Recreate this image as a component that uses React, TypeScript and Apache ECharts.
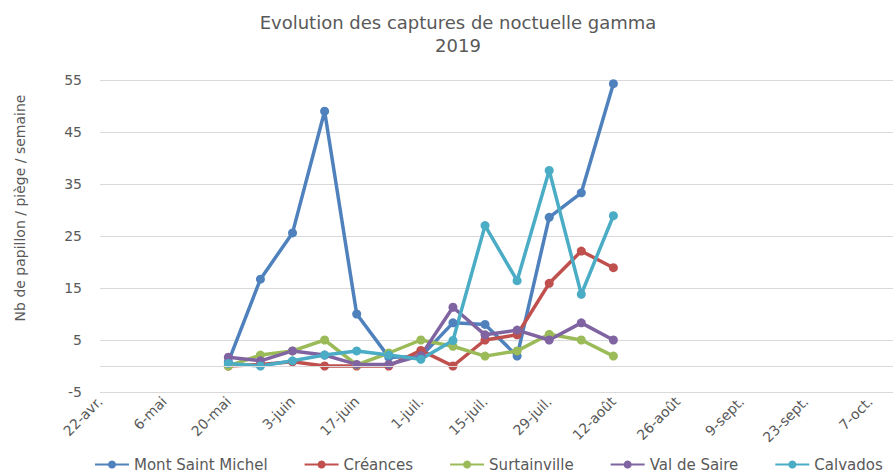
import React, { useEffect, useRef } from "react";
import * as echarts from "echarts";

const startDate = "2019-04-22";
const tickLabels = ["22-avr.", "6-mai", "20-mai", "3-juin", "17-juin", "1-juil.", "15-juil.", "29-juil.", "12-août", "26-août", "9-sept.", "23-sept.", "7-oct."];
const dates = ["2019-05-20", "2019-05-27", "2019-06-03", "2019-06-10", "2019-06-17", "2019-06-24", "2019-07-01", "2019-07-08", "2019-07-15", "2019-07-22", "2019-07-29", "2019-08-05", "2019-08-12"];
const seriesNames = ["Mont Saint Michel", "Créances", "Surtainville", "Val de Saire", "Calvados"];
const montSaintMichel = [0.8, 16.7, 25.6, 49.0, 10.0, 1.7, 1.8, 8.3, 8.0, 1.9, 28.6, 33.3, 54.3];
const creances = [0, 0.3, 0.8, 0, 0, 0, 3.0, 0, 5.0, 6.0, 15.9, 22.1, 18.9];
const surtainville = [0, 2.1, 2.9, 5.0, 0.2, 2.5, 5.0, 3.8, 1.9, 2.9, 6.1, 5.0, 1.9];
const valDeSaire = [1.7, 1.0, 2.9, 2.1, 0.3, 0.3, 2.0, 11.3, 6.0, 6.9, 5.0, 8.3, 5.0];
const calvados = [0.5, 0, 1.0, 2.1, 2.9, 2.1, 1.3, 4.9, 27.0, 16.4, 37.6, 13.8, 28.9];
const colors = ["#4F81BD", "#C0504D", "#9BBB59", "#8064A2", "#4BACC6"];

const DAY = 24 * 3600 * 1000;
const dayOffset = (d: string) => Math.round((Date.parse(d) - Date.parse(startDate)) / DAY);

export default function App() {
  const ref = useRef<HTMLDivElement>(null);
  useEffect(() => {
    document.body.style.margin = "0";
    const chart = echarts.init(ref.current!, null, { renderer: "svg" });
    const allValues = [montSaintMichel, creances, surtainville, valDeSaire, calvados];
    const axisFont = "DejaVu Sans, Verdana, sans-serif";
    const titleStyle = { fontFamily: axisFont, fontSize: 18, fontWeight: "normal", color: "#595959", lineHeight: 21 };
    chart.setOption({
      animation: false,
      color: colors,
      title: {
        text: "Evolution des captures de noctuelle gamma",
        subtext: "2019",
        left: 453,
        textAlign: "center",
        top: 7,
        itemGap: 2,
        textStyle: titleStyle,
        subtextStyle: titleStyle,
      },
      legend: {
        left: 94,
        top: 457,
        width: 799,
        padding: 0,
        itemWidth: 34,
        itemHeight: 10,
        itemGap: 36,
        textStyle: { fontFamily: axisFont, fontSize: 15, color: "#595959" },
        data: seriesNames,
      },
      grid: { left: 100, right: 0, top: 80, bottom: 82 },
      xAxis: {
        type: "value",
        min: 0,
        max: 173,
        interval: 14,
        axisLine: { show: false },
        axisTick: { show: false },
        splitLine: { show: false },
        axisLabel: {
          rotate: 45,
          margin: 7,
          showMaxLabel: false,
          fontFamily: axisFont,
          fontSize: 14,
          color: "#595959",
          formatter: (v: number) => (Math.round(v) % 14 === 0 ? tickLabels[Math.round(v / 14)] ?? "" : ""),
        },
      },
      yAxis: {
        type: "value",
        min: -5,
        max: 55,
        interval: 10,
        axisLine: { show: false },
        axisTick: { show: false },
        splitLine: { lineStyle: { color: "#D9D9D9", width: 1 } },
        axisLabel: { margin: 18, fontFamily: axisFont, fontSize: 14, color: "#595959" },
      },
      graphic: [
        {
          type: "text",
          x: 20,
          y: 208,
          rotation: Math.PI / 2,
          style: {
            text: "Nb de papillon / piège / semaine",
            fontFamily: axisFont,
            fontSize: 14,
            fill: "#595959",
            align: "center",
            verticalAlign: "middle",
          },
        },
      ],
      series: seriesNames.map((name, i) => ({
        name,
        type: "line",
        symbol: "circle",
        symbolSize: 9,
        lineStyle: { width: 3.5 },
        data: dates.map((d, j) => [dayOffset(d), allValues[i][j]]),
        markLine:
          i === 0
            ? {
                silent: true,
                symbol: "none",
                label: { show: false },
                lineStyle: { color: "#D9D9D9", width: 1, type: "solid" },
                data: [{ yAxis: 0 }],
              }
            : undefined,
      })),
    });
    return () => chart.dispose();
  }, []);
  return <div ref={ref} style={{ width: 893, height: 474 }} />;
}
